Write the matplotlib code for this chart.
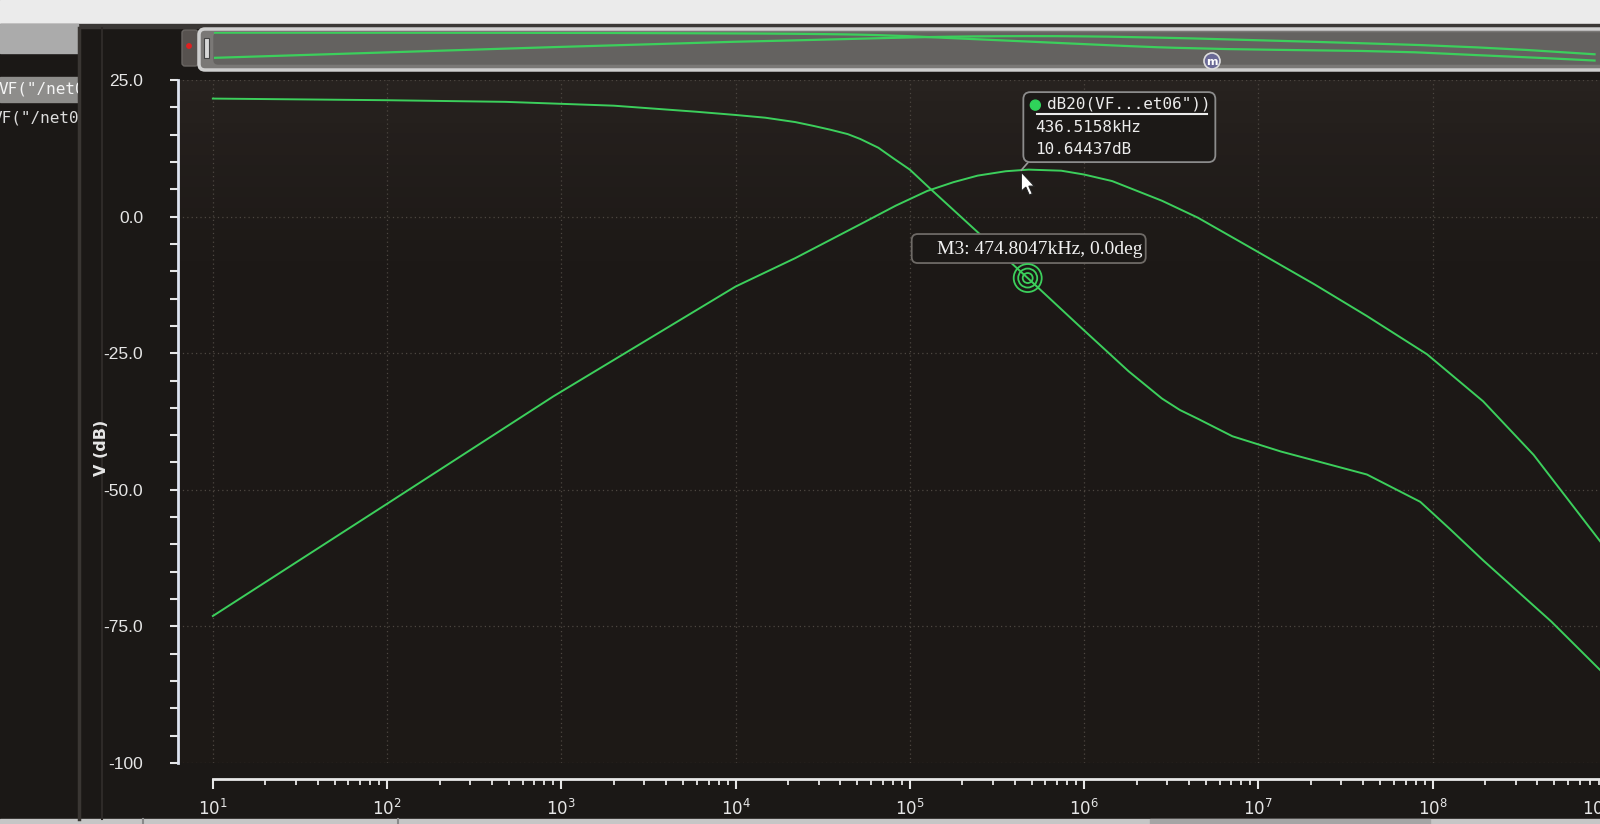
import numpy as np
import matplotlib
matplotlib.use("Agg")
import matplotlib.pyplot as plt
from matplotlib.patches import FancyBboxPatch, Rectangle, Polygon, Circle
from matplotlib.lines import Line2D
from matplotlib.ticker import FixedLocator, MultipleLocator, NullFormatter
from matplotlib.transforms import IdentityTransform
from matplotlib.colors import LinearSegmentedColormap

# ---------------- data ----------------
freq_lp = [10, 100, 480, 2.0e3, 5.9e3, 1.0e4, 1.48e4, 2.2e4, 2.8e4, 3.5e4, 4.4e4,
           5.2e4, 6.6e4, 8.1e4, 1.0e5, 1.3e5, 2.5e5, 5.0e5, 9.3e5, 1.8e6, 2.8e6,
           3.55e6, 4.5e6, 7.1e6, 1.35e7, 4.2e7, 8.5e7, 1.26e8, 1.95e8, 4.8e8, 9.3e8]
db_lp = [21.6, 21.3, 21.0, 20.3, 19.2, 18.6, 18.1, 17.3, 16.6, 15.9, 15.1,
         14.2, 12.6, 10.6, 8.6, 5.2, -3.1, -11.9, -19.9, -28.3, -33.3,
         -35.4, -37.0, -40.2, -43.0, -47.2, -52.2, -57.2, -62.9, -74.1, -83.2]

freq_bp = [10, 90, 900, 1.0e4, 2.2e4, 5.2e4, 8.3e4, 1.26e5, 1.78e5, 2.45e5, 3.55e5,
           4.8e5, 7.4e5, 1.0e6, 1.45e6, 2.8e6, 4.5e6, 8.7e6, 2.1e7, 4.2e7, 9.3e7,
           1.95e8, 3.8e8, 9.3e8]
db_bp = [-73.1, -53.5, -32.9, -12.8, -7.6, -1.4, 2.0, 4.7, 6.3, 7.5, 8.3,
         8.6, 8.4, 7.7, 6.5, 2.9, -0.2, -5.4, -12.4, -18.2, -25.2,
         -33.8, -43.6, -59.7]

y_ticks = [25, 0, -25, -50, -75, -100]
y_tick_labels = ["25.0", "0.0", "-25.0", "-50.0", "-75.0", "-100"]
x_decades = [1, 2, 3, 4, 5, 6, 7, 8, 9]
x_tick_labels = [r"$\mathregular{10^{%d}}$" % d for d in x_decades]

tip_freq = 436.5158e3
tip_lines = ['dB20(VF...et06"))', "436.5158kHz", "10.64437dB"]
marker_freq = 474.8047e3
marker_label = "M3: 474.8047kHz, 0.0deg"
trace_names = ['VF("/net06', 'VF("/net06']

# ---------------- styling ----------------
W, H = 1600, 824
GREEN = "#3ccf5c"
FG = "#e6e6e6"
IT = IdentityTransform()

fig = plt.figure(figsize=(W / 100, H / 100), dpi=100, facecolor="#1b1816")


def prect(x0, ytop, x1, ybot, z=-1, **kw):
    r = Rectangle((x0, H - ybot), x1 - x0, ybot - ytop, transform=IT, zorder=z, **kw)
    fig.add_artist(r)
    return r


# window chrome
prect(0, 0, W, 24, color="#ebebeb")
prect(0, 24, W, 28, color="#3a3735")
prect(0, 24, 78, 53, color="#ababab")
prect(0, 77, 78, 102, color="#8e8d8b")
prect(0, 819, W, H, color="#c6c6c6")
prect(1150, 819, 1430, H, color="#a5a5a5")
for xv in (143, 398):
    fig.add_artist(Line2D([xv, xv], [0, H - 819], transform=IT, color="#8a8a8a", lw=1.5, zorder=-1))
fig.add_artist(Line2D([79, 79], [H - 819, H - 28], transform=IT, color="#3a3633", lw=2.5, zorder=-1))
fig.add_artist(Line2D([102, 102], [H - 819, H - 28], transform=IT, color="#2e2a28", lw=1.5, zorder=-1))

# trace list in left panel (clipped)
lp = fig.add_axes([0, 1 - 140 / H, 78 / W, 85 / H])
lp.set_axis_off()
lp.set_xlim(0, 78)
lp.set_ylim(140, 55)
lp.text(-1, 89, trace_names[0], color="#f4f4f4", family="DejaVu Sans Mono",
        fontsize=11.5, va="center", ha="left", clip_on=True)
lp.text(-7, 118, trace_names[1], color="#dcdcdc", family="DejaVu Sans Mono",
        fontsize=11.5, va="center", ha="left", clip_on=True)

# overview strip
fig.add_artist(FancyBboxPatch((182, H - 66), 16, 36, boxstyle="round,pad=0,rounding_size=3",
                              transform=IT, fc="#57524f", ec="#6a6663", lw=1, zorder=-1))
fig.add_artist(Circle((189, H - 46), 2.2, transform=IT, color="#e02020", zorder=-1))
fig.add_artist(FancyBboxPatch((199, H - 70), 1420, 41, boxstyle="round,pad=0,rounding_size=6",
                              transform=IT, fc="#7a7876", ec="#cfcfcf", lw=2.5, zorder=-1))
fig.add_artist(FancyBboxPatch((214, H - 64), 1400, 31, boxstyle="round,pad=0,rounding_size=4",
                              transform=IT, fc="#646260", ec="#646260", lw=1, zorder=-1))
fig.add_artist(Rectangle((204, H - 58), 5, 20, transform=IT, fc="#d8d8d8", ec="#444", lw=0.8, zorder=-1))

ov = fig.add_axes([214 / W, 1 - 65 / H, (W - 214) / W, 33 / H])
ov.set_axis_off()
ov.set_facecolor("none")
ov.set_xscale("log")
ov.set_xlim(10, 1e9)
ov.set_ylim(-100, 24)
ov.plot(freq_lp, db_lp, color=GREEN, lw=1.6)
ov.plot(freq_bp, db_bp, color=GREEN, lw=1.6)

fig.add_artist(Circle((1212, H - 61), 8, transform=IT, fc="#6b6a96", ec="#dedede", lw=1.2, zorder=1))
fig.text(1212, H - 62, "m", transform=IT, color="white", fontsize=8, weight="bold",
         ha="center", va="center", zorder=2)

# ---------------- main axes ----------------
L0, L1 = 0.80, 8.961
ax = fig.add_axes([178 / W, 1 - 763 / H, (W - 178) / W, (763 - 80) / H])
ax.set_facecolor("#1e1a17")
ax.set_xscale("log")

# subtle screen-photo shading behind the plot
shade = LinearSegmentedColormap.from_list("shade", ["#1d1916", "#1c1816", "#27221f"])
ax.imshow(np.linspace(0, 1, 64).reshape(-1, 1) ** 2, cmap=shade, aspect="auto",
          extent=[0, 1, 0, 1], transform=ax.transAxes, origin="lower", zorder=0)

ax.plot(freq_lp, db_lp, color=GREEN, lw=1.4, zorder=3)
ax.plot(freq_bp, db_bp, color=GREEN, lw=1.4, zorder=3)
ax.set_xlim(10 ** L0, 10 ** L1)
ax.set_ylim(-100, 25)

ax.yaxis.set_major_locator(FixedLocator(y_ticks))
ax.set_yticklabels(y_tick_labels)
ax.yaxis.set_minor_locator(MultipleLocator(5))
ax.xaxis.set_major_locator(FixedLocator([10.0 ** d for d in x_decades]))
ax.set_xticklabels(x_tick_labels)
minors = [m * 10.0 ** d for d in x_decades[:-1] for m in range(2, 10)]
ax.xaxis.set_minor_locator(FixedLocator(minors))
ax.xaxis.set_minor_formatter(NullFormatter())

for s in ("top", "right"):
    ax.spines[s].set_visible(False)
ax.spines["left"].set_color("#dde3f0")
ax.spines["left"].set_linewidth(2)
ax.spines["bottom"].set_position(("outward", 11.5))
ax.spines["bottom"].set_bounds(10, 10 ** L1)
ax.spines["bottom"].set_color("#e8e8e8")
ax.spines["bottom"].set_linewidth(2)

ax.tick_params(axis="y", which="both", direction="out", length=6, width=1.5,
               colors=FG, labelsize=12.5, pad=19)
ax.tick_params(axis="x", which="major", direction="out", length=7.5, width=1.5,
               colors=FG, labelsize=12, pad=6.5)
ax.tick_params(axis="x", which="minor", direction="out", length=4.5, width=1.3, colors=FG)
for lab in ax.get_yticklabels():
    lab.set_family("Liberation Sans")

ax.grid(True, which="major", color="#4d4741", linestyle=(0, (1, 2.5)), lw=0.9, zorder=1)

# last decade label sits at the right edge of the window (partly cut, as in the screenshot)
x9, _ = ax.transData.transform((10.0 ** x_decades[-1], -100))
_, ybase = ax.transData.transform((10.0, -100))
fig.text(x9 - 10, ybase - 46, x_tick_labels[-1], transform=IT, color=FG, fontsize=12,
         ha="center", va="center")

fig.text(102 / W, 1 - 448 / H, "V (dB)", rotation=90, color=FG, fontsize=11.5,
         weight="bold", ha="center", va="center")

# ---------------- tooltip on the band-pass curve ----------------
tip_db = float(np.interp(np.log10(tip_freq), np.log10(freq_bp), db_bp))
px, py = ax.transData.transform((tip_freq, tip_db))

fig.add_artist(Line2D([px, px + 7], [py, py + 8], transform=IT, color="#9a9a9a", lw=1.2, zorder=5))
fig.add_artist(FancyBboxPatch((px + 2, py + 8), 192, 70, boxstyle="round,pad=0,rounding_size=7",
                              transform=IT, fc="#1c1917", ec="#8c8c8c", lw=1.3, zorder=5))
fig.add_artist(Circle((px + 14, py + 65), 5, transform=IT, color="#2fd35a", zorder=6))
fig.text(px + 26, py + 66, tip_lines[0], transform=IT, color="#ececec",
         family="DejaVu Sans Mono", fontsize=11.5, ha="left", va="center", zorder=6)
fig.add_artist(Line2D([px + 16, px + 186], [py + 56, py + 56], transform=IT,
                      color="#ececec", lw=1.5, zorder=6))
fig.text(px + 14, py + 43, tip_lines[1], transform=IT, color="#ececec",
         family="DejaVu Sans Mono", fontsize=11.5, ha="left", va="center", zorder=6)
fig.text(px + 14, py + 21, tip_lines[2], transform=IT, color="#ececec",
         family="DejaVu Sans Mono", fontsize=11.5, ha="left", va="center", zorder=6)

# mouse cursor
cur = np.array([(0, 0), (0, -19), (4.5, -15), (8, -23), (11, -21.5), (7.5, -14), (13, -14)])
fig.add_artist(Polygon(cur + [px, py - 2], closed=True, transform=IT, fc="white",
                       ec="#222", lw=0.8, zorder=7))

# ---------------- marker M3 on the low-pass curve ----------------
mk_db = float(np.interp(np.log10(marker_freq), np.log10(freq_lp), db_lp))
qx, qy = ax.transData.transform((marker_freq, mk_db))
for r in (14, 9.5, 5):
    fig.add_artist(Circle((qx, qy), r, transform=IT, fill=False, ec=GREEN, lw=1.3, zorder=6))
fig.add_artist(FancyBboxPatch((qx - 116, qy + 15), 234, 29, boxstyle="round,pad=0,rounding_size=6",
                              transform=IT, fc="#1b1816", ec="#6e6a66", lw=1.3, zorder=5))
fig.text(qx - 91, qy + 29, marker_label, transform=IT, color="#f2f2f2",
         family="Liberation Serif", fontsize=14, ha="left", va="center", zorder=6)

fig.savefig("out.png", dpi=100, facecolor=fig.get_facecolor())
